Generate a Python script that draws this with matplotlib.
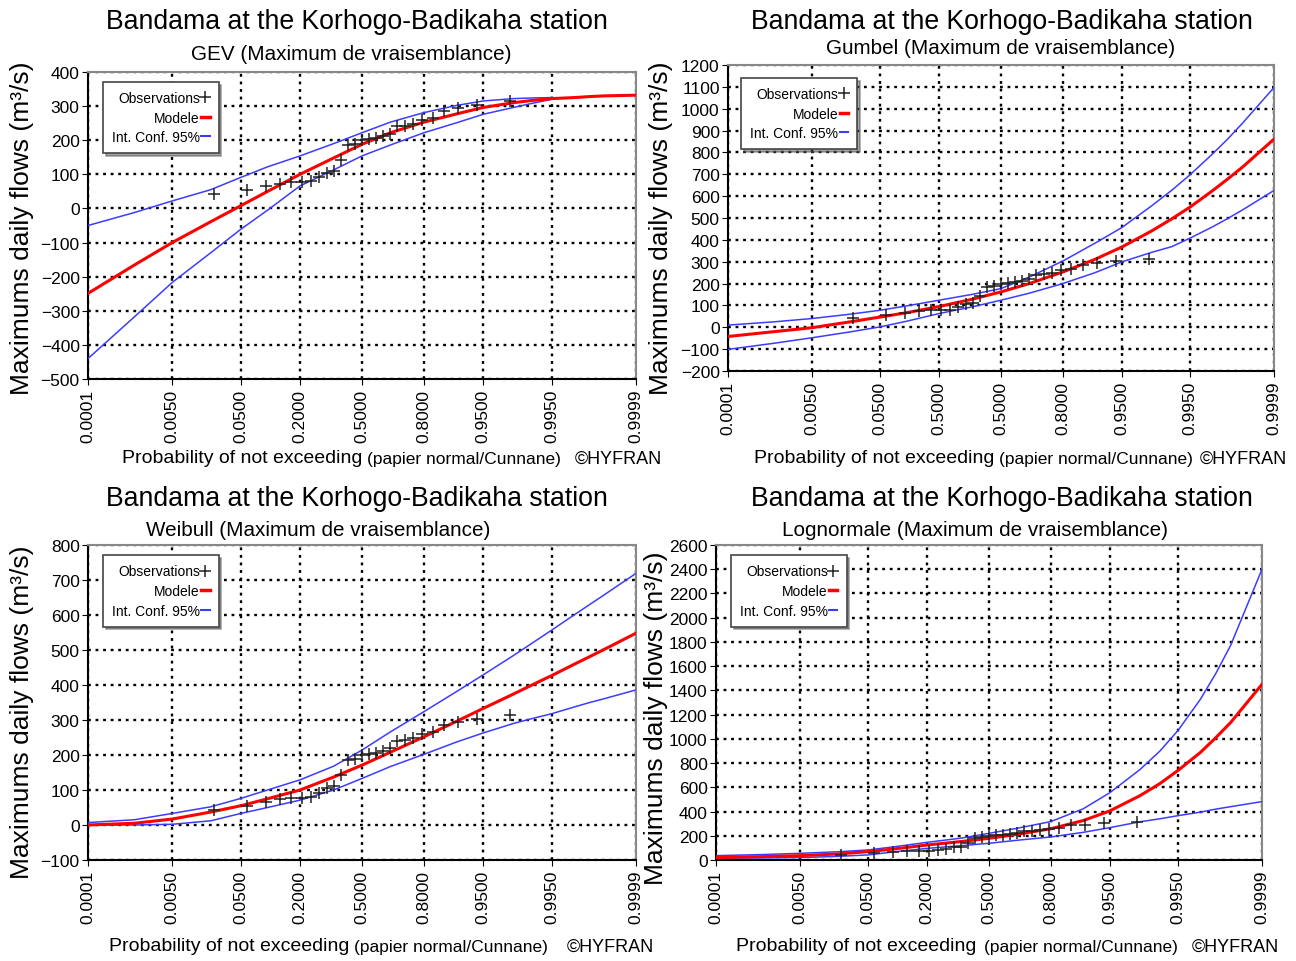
import numpy as np
import matplotlib
matplotlib.use("Agg")
import matplotlib.pyplot as plt
from matplotlib.lines import Line2D
from statistics import NormalDist

plt.rcParams['font.family'] = ['Liberation Sans', 'DejaVu Sans']

W, H = 1296, 962

probs = [0.0001, 0.001, 0.005, 0.02, 0.05, 0.1, 0.2, 0.35, 0.5, 0.65,
         0.8, 0.9, 0.95, 0.98, 0.99, 0.995, 0.998, 0.999, 0.9995, 0.9999]

# observed annual maxima (sorted), m3/s
obs = [43, 54, 66, 73, 77, 78, 79, 91, 105, 111, 143, 185, 190, 200, 203,
       206, 212, 219, 241, 243, 248, 260, 265, 286, 293, 303, 314]

# GEV: confidence band stops at 0.995
gev_model = [-249, -166, -100, -39, 8, 50, 100, 148, 188, 222, 253, 277, 296, 310, 317, 322, 325, 328, 330, 332]
gev_upper = [-50, -12, 22, 55, 91, 122, 154, 190, 222, 253, 281, 302, 315, 322, 324, 325]
gev_lower = [-440, -318, -217, -130, -61, -5, 66, 113, 154, 186, 222, 251, 276, 296, 309, 320]

gum_model = [-42, -20, -2, 25, 47, 67, 95, 129, 162, 200, 253, 311, 367, 441, 496, 550, 624, 679, 733, 861]
gum_upper = [10, 25, 40, 60, 78, 98, 124, 151, 177, 230, 303, 385, 456, 556, 627, 698, 792, 862, 934, 1097]
gum_lower = [-101, -73, -48, -21, 2, 28, 63, 94, 124, 156, 200, 250, 299, 343, 369, 408, 459, 498, 537, 626]

wei_model = [0, 5, 17, 37, 55, 75, 100, 137, 171, 208, 252, 296, 333, 374, 402, 427, 459, 481, 502, 548]
wei_upper = [7, 15, 33, 52, 76, 100, 129, 168, 214, 266, 324, 381, 429, 484, 522, 557, 600, 630, 658, 719]
wei_lower = [0, 0, 2, 12, 33, 50, 71, 100, 133, 167, 202, 237, 263, 290, 305, 318, 337, 350, 361, 386]

lgn_model = [20, 28, 36, 50, 69, 92, 124, 152, 179, 212, 258, 325, 405, 530, 630, 740, 887, 1010, 1134, 1450]
lgn_upper = [36, 45, 55, 68, 83, 110, 146, 180, 220, 262, 317, 422, 555, 745, 898, 1070, 1325, 1540, 1770, 2400]
lgn_lower = [14, 17, 20, 30, 42, 68, 96, 118, 138, 163, 190, 228, 267, 315, 340, 366, 395, 420, 440, 482]

tick_probs = [0.0001, 0.005, 0.05, 0.2, 0.5, 0.8, 0.95, 0.995, 0.9999]
tick_labels = ["0.0001", "0.0050", "0.0500", "0.2000", "0.5000",
               "0.8000", "0.9500", "0.9950", "0.9999"]
# the Gumbel panel prints 0.5000 twice
tick_labels_gum = ["0.0001", "0.0050", "0.0500", "0.5000", "0.5000",
                   "0.8000", "0.9500", "0.9950", "0.9999"]

title = "Bandama at the Korhogo-Badikaha station"
ylab = "Maximums daily flows (m\u00b3/s)"

nd = NormalDist()


def z(p):
    return np.array([nd.inv_cdf(v) for v in p])


n = len(obs)
obs_p = [(i + 1 - 0.4) / (n + 0.2) for i in range(n)]  # Cunnane

RED = "#ff0000"
BLUE = "#3c3cff"


def px_rect(l, t, r, b):
    return [l / W, 1 - b / H, (r - l) / W, (b - t) / H]


def ftext(x, y, s, **kw):
    fig.text(x / W, 1 - y / H, s, **kw)


fig = plt.figure(figsize=(W / 100, H / 100), dpi=100)

panels = [
    dict(rect=(88, 73, 636, 380), ylim=(-500, 400), step=100,
         model=gev_model, upper=gev_upper, lower=gev_lower, labels=tick_labels,
         sub="GEV (Maximum de vraisemblance)", tpos=(357, 22), spos=(351, 54),
         ypos=(22, 228), xl=(122, 367, 575, 459), leg=(0.027, 0.967)),
    dict(rect=(728, 66, 1274, 372), ylim=(-200, 1200), step=100,
         model=gum_model, upper=gum_upper, lower=gum_lower, labels=tick_labels_gum,
         sub="Gumbel (Maximum de vraisemblance)", tpos=(1002, 22), spos=(1001, 49),
         ypos=(661, 228), xl=(754, 999, 1200, 459), leg=(0.024, 0.957)),
    dict(rect=(88, 546, 636, 861), ylim=(-100, 800), step=100,
         model=wei_model, upper=wei_upper, lower=wei_lower, labels=tick_labels,
         sub="Weibull (Maximum de vraisemblance)", tpos=(357, 499), spos=(318, 531),
         ypos=(22, 712), xl=(109, 354, 567, 947), leg=(0.027, 0.967)),
    dict(rect=(716, 546, 1262, 861), ylim=(0, 2600), step=200,
         model=lgn_model, upper=lgn_upper, lower=lgn_lower, labels=tick_labels,
         sub="Lognormale (Maximum de vraisemblance)", tpos=(1002, 499), spos=(975, 531),
         ypos=(656, 718), xl=(736, 984, 1192, 947), leg=(0.027, 0.967)),
]

zmax = nd.inv_cdf(0.9999)

for pn in panels:
    ax = fig.add_axes(px_rect(*pn["rect"]))
    zp = z(probs)
    ax.plot(zp[:len(pn["upper"])], pn["upper"], color=BLUE, lw=1.1, zorder=3)
    ax.plot(zp[:len(pn["lower"])], pn["lower"], color=BLUE, lw=1.1, zorder=3)
    ax.plot(zp, pn["model"], color=RED, lw=2.2, zorder=4)
    ax.plot(z(obs_p), obs, linestyle="none", marker="+", color="#222222",
            ms=9, mew=1.1, zorder=5)

    ax.set_xlim(-zmax, zmax)
    ax.set_ylim(*pn["ylim"])
    ax.set_xticks(z(tick_probs))
    ax.set_xticklabels(pn["labels"], rotation=90, fontsize=12.5)
    ax.set_yticks(np.arange(pn["ylim"][0], pn["ylim"][1] + 1, pn["step"]))
    ax.tick_params(axis="y", labelsize=12.5, pad=2, length=4)
    ax.tick_params(axis="x", pad=3, length=4)
    ax.grid(True, color="black", linestyle=(0, (1.2, 2.0)), lw=1.7)
    for s in ["left", "bottom"]:
        ax.spines[s].set_color("black")
        ax.spines[s].set_linewidth(1.5)
    for s in ["top", "right"]:
        ax.spines[s].set_color("#888888")
        ax.spines[s].set_linewidth(1.5)

    handles = [
        Line2D([], [], linestyle="none", marker="+", color="#222222", ms=8, mew=1.1),
        Line2D([], [], color=RED, lw=2.5),
        Line2D([], [], color=BLUE, lw=1.5),
    ]
    leg = ax.legend(handles, ["Observations", "Modele", "Int. Conf. 95%"],
                    loc="upper left", bbox_to_anchor=pn["leg"], borderaxespad=0,
                    markerfirst=False, handlelength=0.6, handletextpad=0.1,
                    fontsize=10, fancybox=False, shadow=True, framealpha=1,
                    edgecolor="#444444", borderpad=0.65, labelspacing=0.4)
    for t in leg.get_texts():
        t.set_ha("right")
    leg.get_frame().set_linewidth(1.2)

    ftext(*pn["tpos"], title, ha="center", va="center", fontsize=19.2)
    ftext(*pn["spos"], pn["sub"], ha="center", va="center", fontsize=14.9)
    ftext(*pn["ypos"], ylab, ha="center", va="center", rotation=90, fontsize=19)
    x1, x2, x3, yl = pn["xl"]
    ftext(x1, yl, "Probability of not exceeding", ha="left", va="center", fontsize=14)
    ftext(x2, yl + 1, "(papier normal/Cunnane)", ha="left", va="center", fontsize=12.5)
    ftext(x3, yl, "\u00a9HYFRAN", ha="left", va="center", fontsize=13)

fig.savefig("out.png", dpi=100)
